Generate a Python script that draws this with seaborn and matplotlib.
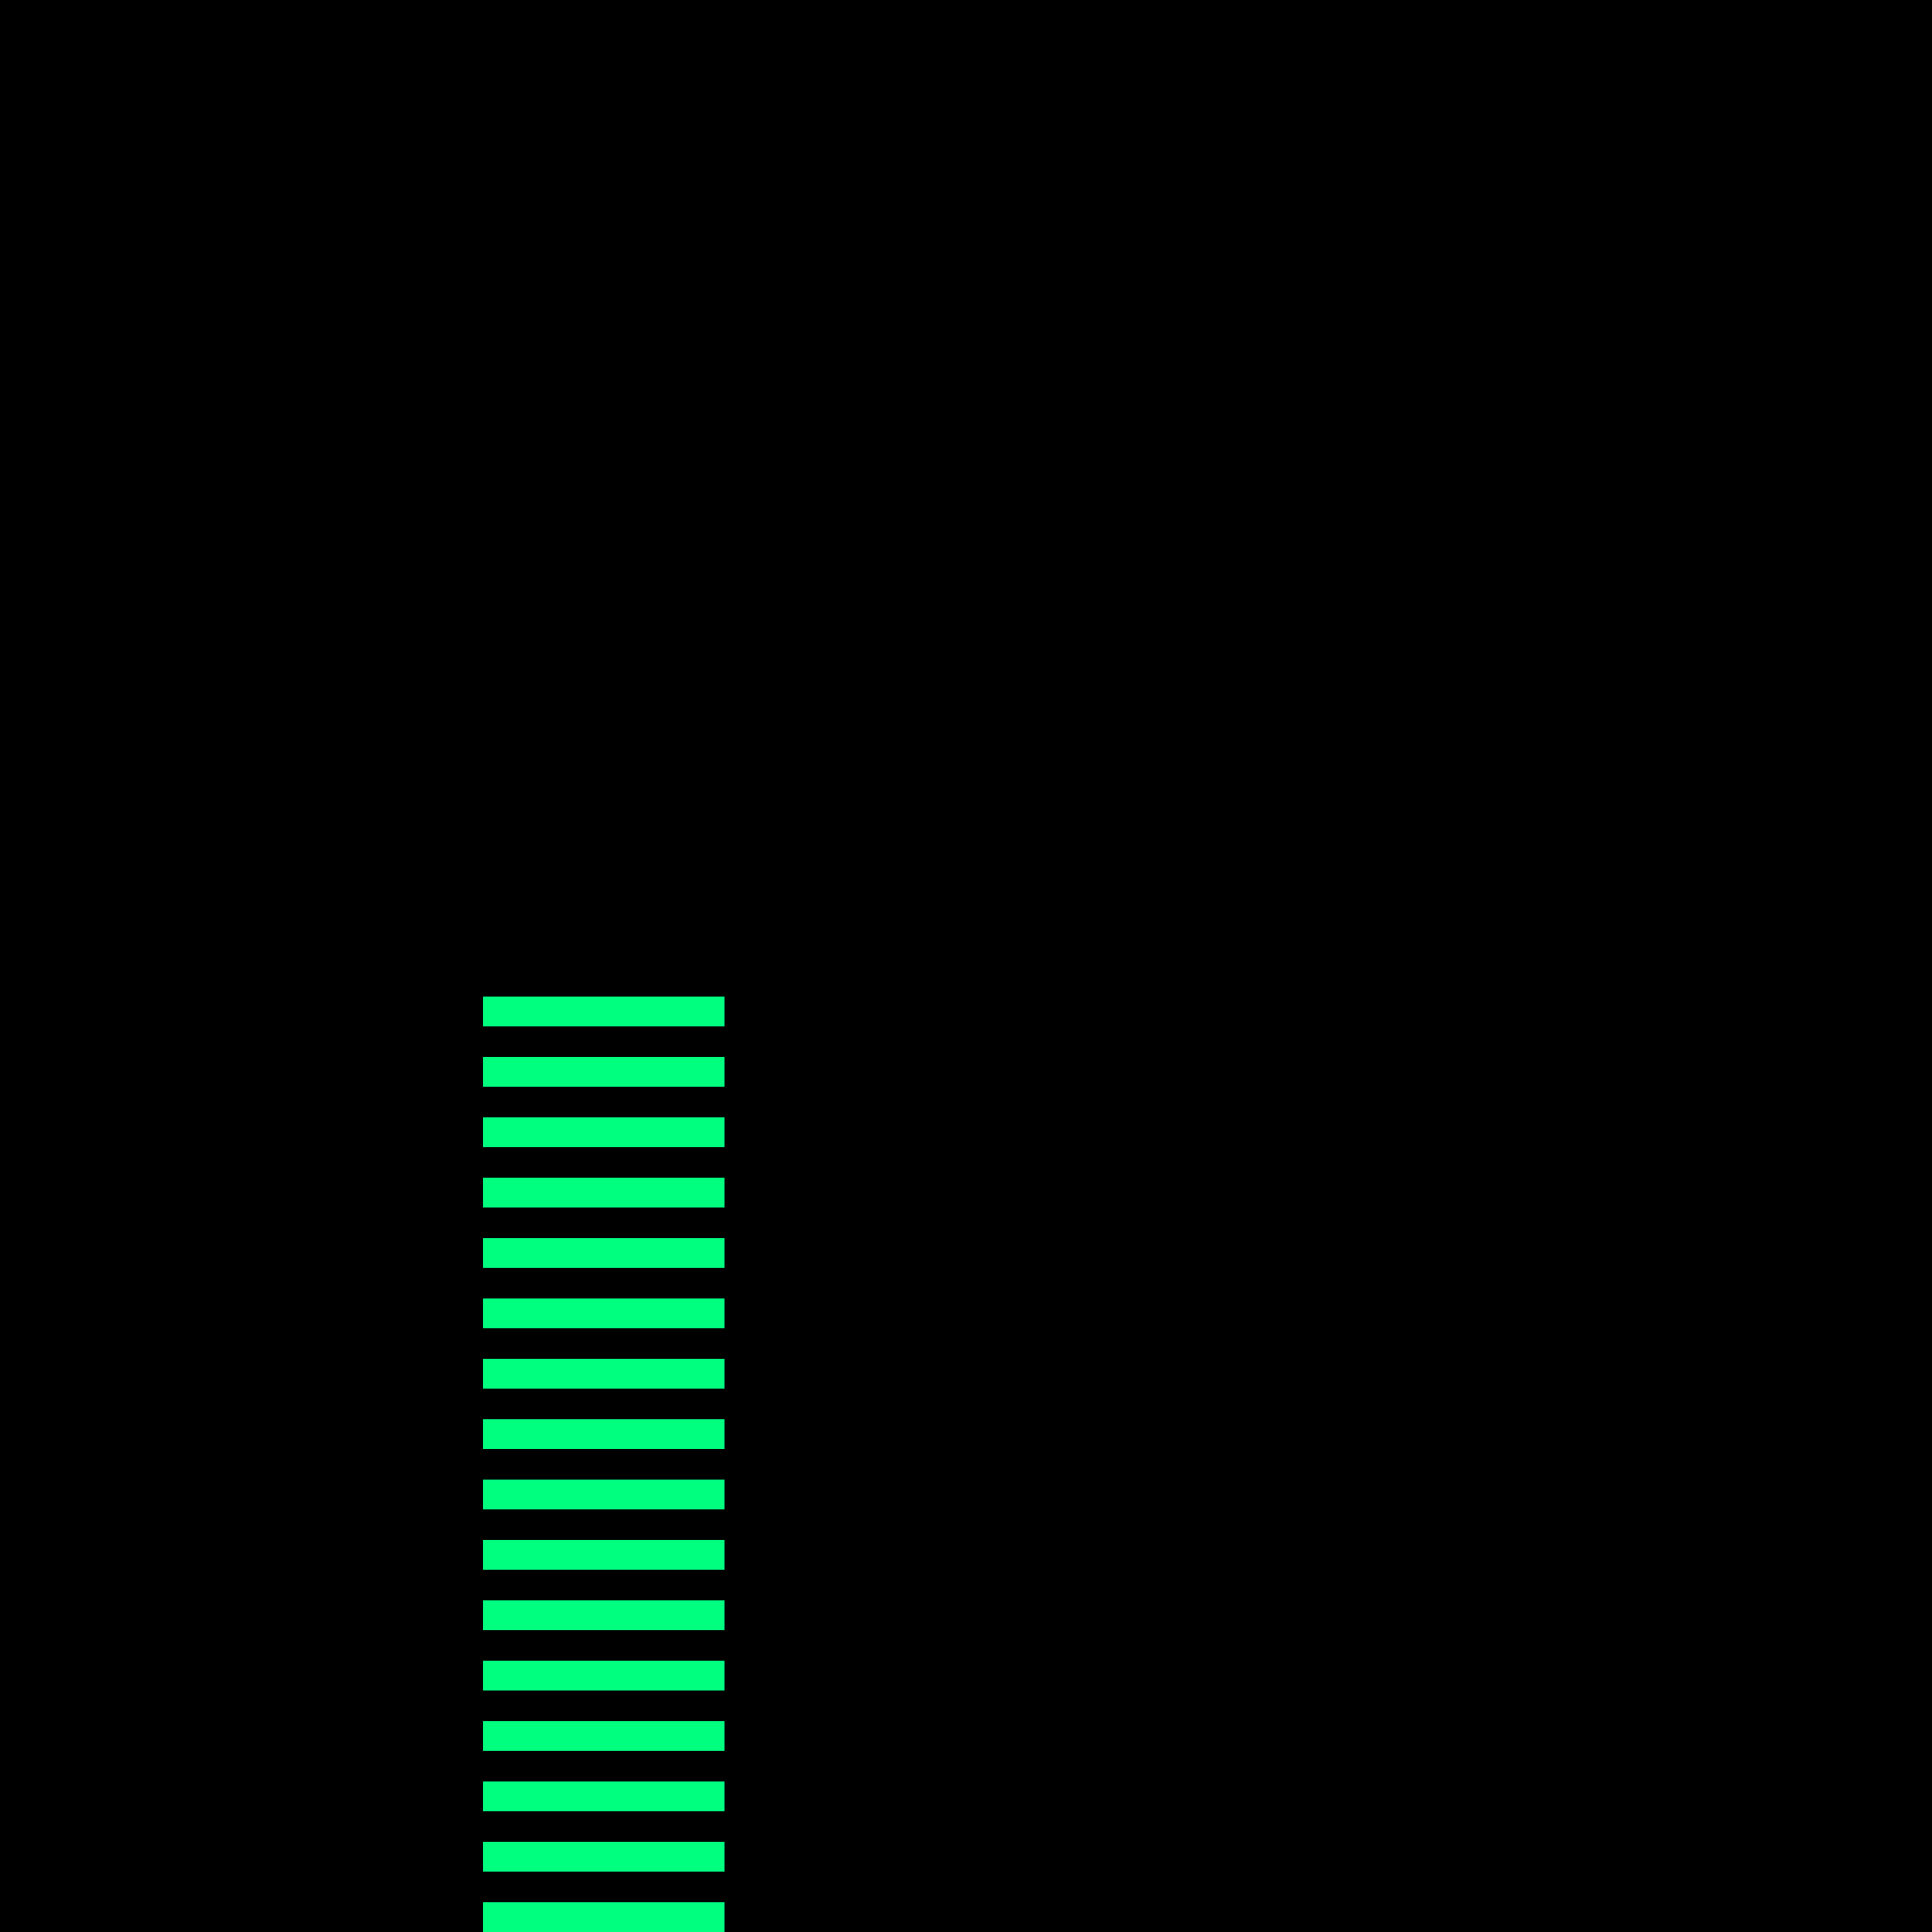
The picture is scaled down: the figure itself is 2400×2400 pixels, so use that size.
import matplotlib
matplotlib.use("Agg")
import matplotlib.pyplot as plt
import seaborn as sns
import pandas as pd

categories = [f"Item {i}" for i in range(1, 17)]
values = [1.0] * 16

bar_color = "#00FF7F"

sns.set_theme(style="dark")
plt.rcParams['font.family'] = ['DejaVu Sans']

df = pd.DataFrame({"category": categories, "value": values})

fig = plt.figure(figsize=(24, 24), dpi=100, facecolor="black")
ax = fig.add_axes([0, 0, 1, 1])
ax.set_facecolor("black")

sns.barplot(data=df, x="value", y="category", orient="h", color=bar_color,
            saturation=1, width=0.5, linewidth=0, ax=ax)

ax.set_xlim(-2, 6)
ax.set_ylim(15.247, -16.753)
ax.set_axis_off()

fig.savefig("out.png", dpi=100, facecolor="black")
